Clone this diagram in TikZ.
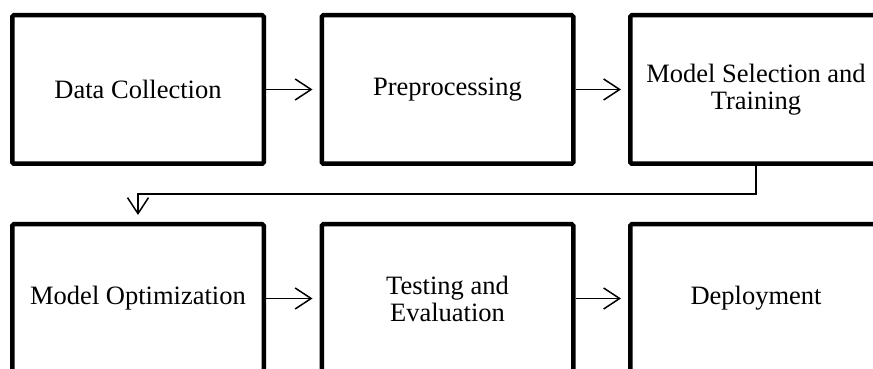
\documentclass[tikz,border=0pt]{standalone}
\usepackage{fontspec}
\setmainfont{Liberation Serif}
\usetikzlibrary{arrows.meta}
\begin{document}
\begin{tikzpicture}[x=1pt,y=1pt,
  stagebox/.style={draw=black, line width=4.5pt, rounded corners=1.5pt, fill=white,
    minimum width=251.5pt, minimum height=148.5pt, align=center,
    font=\fontsize{26.5}{27}\selectfont},
  flow/.style={draw=black, line width=1.5pt,
    -{Straight Barb[length=16pt,width=21pt,line width=1.5pt]}, shorten >=7pt}]
\clip (0,0) rectangle (873,369);
\fill[white] (0,0) rectangle (873,369);
\node[stagebox] (dc) at (138,279.5) {Data Collection};
\node[stagebox] (pp) at (447.5,279.5) {Preprocessing};
\node[stagebox] (ms) at (756,279.5) {Model Selection and\\Training};
\node[stagebox] (mo) at (138,70.5) {Model Optimization};
\node[stagebox] (te) at (447.5,70.5) {Testing and\\Evaluation};
\node[stagebox] (dp) at (756,70.5) {Deployment};
\draw[flow] (dc.east) -- (pp.west);
\draw[flow] (pp.east) -- (ms.west);
\draw[flow] (ms.south) -- (756,175) -- (138,175) -- (mo.north);
\draw[flow] (mo.east) -- (te.west);
\draw[flow] (te.east) -- (dp.west);
\end{tikzpicture}
\end{document}
